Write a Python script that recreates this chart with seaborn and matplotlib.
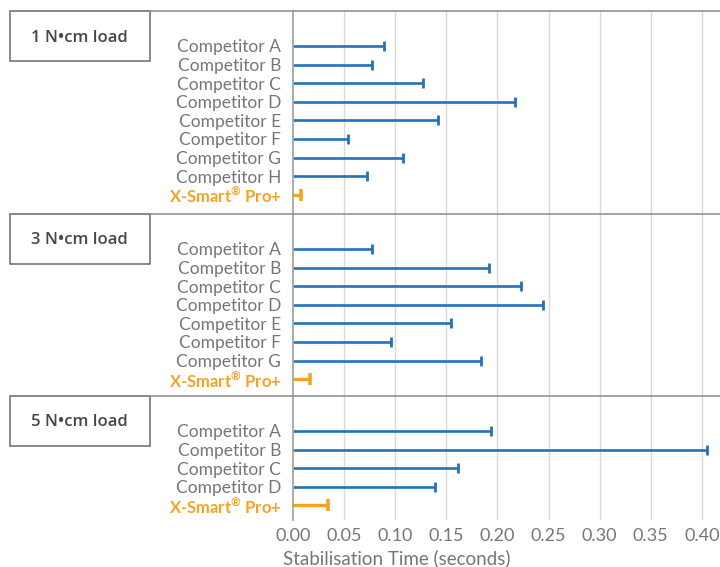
import matplotlib
matplotlib.use("Agg")
import matplotlib.pyplot as plt
import seaborn as sns
import pandas as pd
from matplotlib.patches import Rectangle
from matplotlib.lines import Line2D

# ---------------- data ----------------
panel_titles = ["1 N•cm load", "3 N•cm load", "5 N•cm load"]

labels_1 = ["Competitor A", "Competitor B", "Competitor C", "Competitor D",
            "Competitor E", "Competitor F", "Competitor G", "Competitor H",
            "X-Smart® Pro+"]
values_1 = [0.089, 0.077, 0.127, 0.217, 0.142, 0.054, 0.108, 0.072, 0.008]

labels_3 = ["Competitor A", "Competitor B", "Competitor C", "Competitor D",
            "Competitor E", "Competitor F", "Competitor G", "X-Smart® Pro+"]
values_3 = [0.077, 0.192, 0.223, 0.245, 0.155, 0.096, 0.184, 0.017]

labels_5 = ["Competitor A", "Competitor B", "Competitor C", "Competitor D",
            "X-Smart® Pro+"]
values_5 = [0.194, 0.405, 0.161, 0.139, 0.034]

highlight = "X-Smart® Pro+"
x_ticks = [0.00, 0.05, 0.10, 0.15, 0.20, 0.25, 0.30, 0.35, 0.40]
x_label = "Stabilisation Time (seconds)"

# ---------------- style ----------------
sns.set_theme(style="white")
plt.rcParams["font.family"] = ["Lato", "DejaVu Sans"]

BLUE = "#2272b9"
ORANGE = "#f6a325"
TXT = "#767676"
DARK = "#474747"
GRID = "#d9d9d9"
SEP = "#8a8a8a"

W, H = 720, 567
fig = plt.figure(figsize=(W / 100, H / 100), dpi=100)

# panel pixel extents (top, bottom)
extents = [(11, 214), (214, 396), (396, 520)]
left_px = 293
row_px = 18.6
x_max = (W - left_px) / 1022.0

panels = [(labels_1, values_1), (labels_3, values_3), (labels_5, values_5)]

for i, ((labels, values), (top, bot), title) in enumerate(zip(panels, extents, panel_titles)):
    ax = fig.add_axes([left_px / W, 1 - bot / H, (W - left_px) / W, (bot - top) / H])
    n = len(labels)
    span = (bot - top) / row_px
    ax.set_ylim(span - 1.88, -1.88)
    ax.set_xlim(0, x_max)

    df = pd.DataFrame({"label": labels, "value": values, "pos": range(n)})
    df["group"] = ["hi" if l == highlight else "base" for l in labels]

    for x in x_ticks[1:]:
        ax.axvline(x, color=GRID, lw=1.0, zorder=0)

    base = df[df.group == "base"]
    hi = df[df.group == "hi"]
    ax.hlines(base["pos"], 0, base["value"], color=BLUE, lw=1.9, zorder=3)
    ax.hlines(hi["pos"], 0, hi["value"], color=ORANGE, lw=2.4, zorder=3)
    sns.scatterplot(data=base, x="value", y="pos", marker="|", s=55,
                    color=BLUE, linewidth=2.0, ax=ax, zorder=4, legend=False)
    sns.scatterplot(data=hi, x="value", y="pos", marker="|", s=75,
                    color=ORANGE, linewidth=2.6, ax=ax, zorder=4, legend=False)

    ax.set_yticks(range(n))
    disp = [l.replace("®", r"$^{\mathregular{®}}$") for l in labels]
    ax.set_yticklabels(disp)
    for tl, l in zip(ax.get_yticklabels(), labels):
        if l == highlight:
            tl.set_color(ORANGE)
            tl.set_fontweight("bold")
            tl.set_fontsize(12)
        else:
            tl.set_color(TXT)
            tl.set_fontweight("normal")
            tl.set_fontsize(12.5)
    ax.tick_params(axis="y", length=0, pad=8.5)
    ax.set_ylabel("")
    ax.set_xlabel("")

    ax.set_xticks(x_ticks)
    if i == 2:
        ax.set_xticklabels([f"{v:.2f}" for v in x_ticks], color=TXT,
                           fontsize=13)
        ax.tick_params(axis="x", length=0, pad=6)
    else:
        ax.tick_params(axis="x", length=0, labelbottom=False)

    for s in ["right", "bottom", "top"]:
        ax.spines[s].set_visible(False)
    ax.spines["left"].set_color("#a6a6a6")
    ax.spines["left"].set_linewidth(1.3)
    ax.spines["left"].set_zorder(5)
    ax.patch.set_alpha(0)

    # separator line and title box
    y_fig = 1 - top / H
    fig.add_artist(Line2D([9.5 / W, 1], [y_fig, y_fig], color=SEP, lw=1.1,
                          transform=fig.transFigure))
    fig.add_artist(Rectangle((9.5 / W, 1 - (top + 50) / H), 140 / W, 50 / H,
                             transform=fig.transFigure, fill=False,
                             edgecolor="#6a6a6a", lw=1.1))
    fig.text(79.5 / W, 1 - (top + 26.5) / H, title, ha="center", va="center",
             fontsize=12, fontweight="semibold", color=DARK,
             family=["Open Sans", "DejaVu Sans"])

fig.text(397 / W, 1 - 558 / H, x_label, ha="center", va="center",
         fontsize=13.5, color=TXT)

fig.savefig("out.png", dpi=100)
